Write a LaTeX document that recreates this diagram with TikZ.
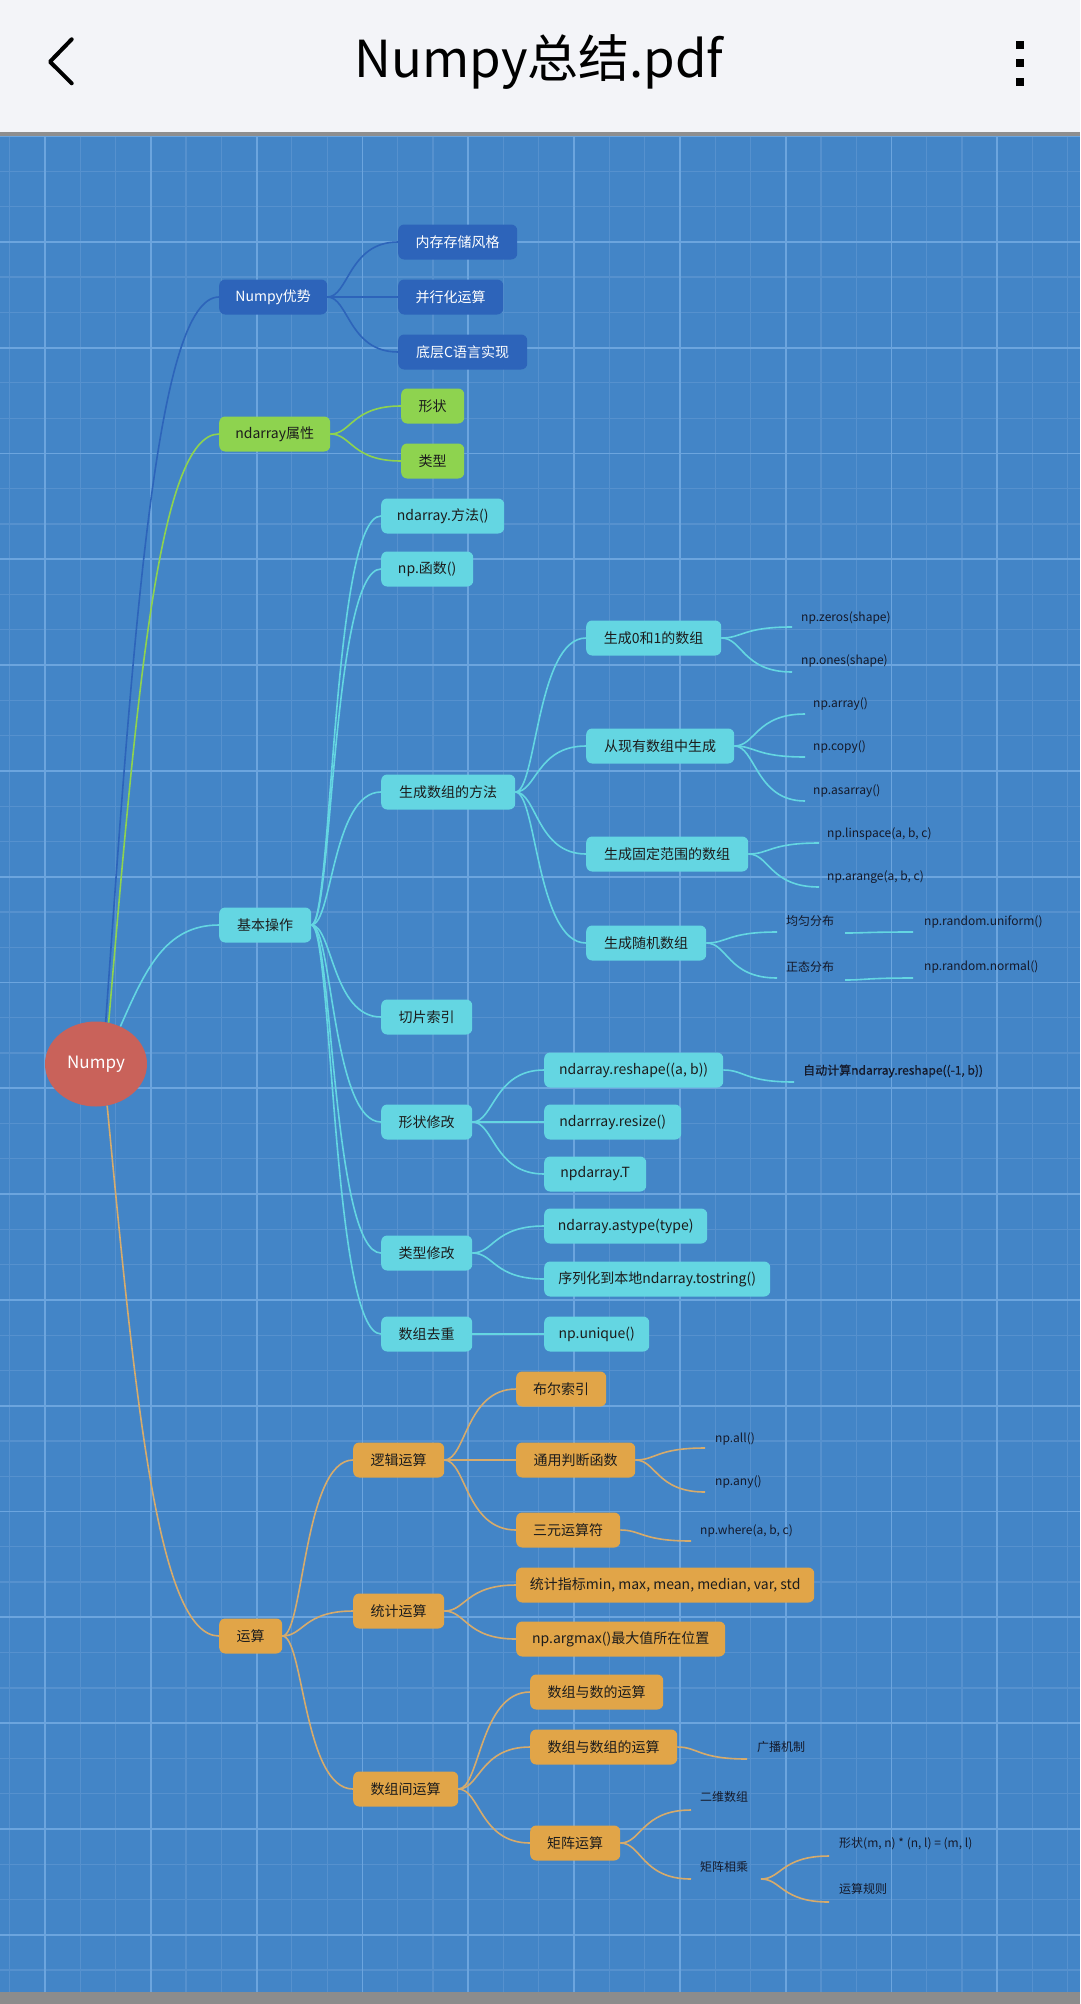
\documentclass[tikz,border=0pt]{standalone}
\usepackage{fontspec}
\newfontfamily\cjk{Noto Sans CJK SC}
\newfontfamily\cjkfb[FakeBold=0.8]{Noto Sans CJK SC}
\usetikzlibrary{calc,shapes.geometric}
\definecolor{bg}{HTML}{4385C7}
\definecolor{gminc}{HTML}{5691CE}
\definecolor{gmajc}{HTML}{6CA5DE}
\definecolor{headbg}{HTML}{F3F4F8}
\definecolor{headline}{HTML}{8E8E8E}
\definecolor{botbar}{HTML}{8C8C8C}
\definecolor{nblue}{HTML}{2D64BA}
\definecolor{ngreen}{HTML}{8ED34F}
\definecolor{ncyan}{HTML}{64D6E2}
\definecolor{norange}{HTML}{E1A548}
\definecolor{lorange}{HTML}{D6AB6C}
\definecolor{nroot}{HTML}{C9625A}
\definecolor{txtdark}{HTML}{1C1C1C}
\definecolor{leaftxt}{HTML}{14192A}
\newcommand\curv[3]{\draw[#1] let \p1=(#2), \p2=(#3) in (\p1) .. controls ({\x1+0.3*(\x2-\x1)},\y1) and ({\x1+0.3*(\x2-\x1)},\y2) .. (\p2);}
\newcommand\rootcurv[3]{\draw[#1] let \p1=(#2), \p2=(#3) in (\p1) .. controls ({\x1+0.25*(\x2-\x1)},{\y1+0.55*(\y2-\y1)}) and ({\x1+0.45*(\x2-\x1)},\y2) .. (\p2);}
\tikzset{
  gmin/.style={gminc, line width=1.2pt},
  gmaj/.style={gmajc, line width=1.8pt},
  box/.style={rounded corners=6pt, minimum height=35pt, inner xsep=4pt, inner ysep=0pt, anchor=west, font=\cjk\fontsize{14}{16}\selectfont, text=txtdark},
  bbox/.style={box, fill=nblue, text=white},
  gbox/.style={box, fill=ngreen},
  cbox/.style={box, fill=ncyan},
  obox/.style={box, fill=norange},
  leaf/.style={inner sep=0pt, anchor=west, font=\cjk\fontsize{12}{14}\selectfont, text=leaftxt},
  bline/.style={nblue, line width=1.6pt},
  gline/.style={ngreen, line width=1.6pt},
  cline/.style={ncyan, line width=1.6pt},
  oline/.style={lorange, line width=1.6pt},
}
\begin{document}
\begin{tikzpicture}[x=1pt,y=-1pt]
\useasboundingbox (0,0) rectangle (1080,2004);
% header and background
\fill[headbg] (0,0) rectangle (1080,132);
\fill[headline] (0,132) rectangle (1080,137);
\fill[bg] (0,137) rectangle (1080,1992);
\fill[botbar] (0,1992) rectangle (1080,2004);
\begin{scope}
\clip (0,137) rectangle (1080,1992);
\foreach \i in {-2,...,30} \draw[gmin] ({45+35.27*\i},137) -- ({45+35.27*\i},1992);
\foreach \j in {0,...,53} \draw[gmin] (0,{136+35.27*\j}) -- (1080,{136+35.27*\j});
\foreach \i in {-1,...,10} \draw[gmaj] ({45+105.8*\i},137) -- ({45+105.8*\i},1992);
\foreach \j in {0,...,18} \draw[gmaj] (0,{136+105.8*\j}) -- (1080,{136+105.8*\j});
\end{scope}
\draw[black, line width=4pt, line cap=round, line join=round] (71.7,39.3) -- (50,61.7) -- (71.7,83.3);
\foreach \yy in {41,59,78} \fill[black] (1016,\yy) rectangle (1024,\yy+8);
\node[font=\cjk\fontsize{51}{55}\selectfont, text=black] (title) at (539,62) {Numpy总结.pdf};

% root
\node[ellipse, fill=nroot, minimum width=102pt, minimum height=85pt, inner sep=0pt, text=white, font=\cjk\fontsize{17}{20}\selectfont] (root) at (96,1064) {Numpy};

% level 1
\node[bbox, minimum width=108pt] (adv) at (219,297) {Numpy优势};
\node[gbox, minimum width=111pt] (attr) at (219,434) {ndarray属性};
\node[cbox, minimum width=92pt] (basic) at (219,925) {基本操作};
\node[obox, minimum width=63pt] (calc) at (219,1636) {运算};

% blue children
\node[bbox, minimum width=119pt] (mem) at (398,242) {内存存储风格};
\node[bbox, minimum width=105pt] (par) at (398,297) {并行化运算};
\node[bbox, minimum width=129pt] (low) at (398,352) {底层C语言实现};

% green children
\node[gbox, minimum width=63pt] (shape) at (401,406) {形状};
\node[gbox, minimum width=63pt] (dtype) at (401,461) {类型};

% cyan level 2
\node[cbox, minimum width=123pt] (meth) at (381,516) {ndarray.方法()};
\node[cbox, minimum width=92pt] (func) at (381,569) {np.函数()};
\node[cbox, minimum width=134pt] (gen) at (381,792) {生成数组的方法};
\node[cbox, minimum width=91pt] (slice) at (381,1017) {切片索引};
\node[cbox, minimum width=91pt] (shpmod) at (381,1122) {形状修改};
\node[cbox, minimum width=91pt] (typmod) at (381,1253) {类型修改};
\node[cbox, minimum width=91pt] (dedup) at (381,1334) {数组去重};

% cyan level 3
\node[cbox, minimum width=135pt] (g01) at (586,638) {生成0和1的数组};
\node[cbox, minimum width=148pt] (gexist) at (586,746) {从现有数组中生成};
\node[cbox, minimum width=162pt] (grange) at (586,854) {生成固定范围的数组};
\node[cbox, minimum width=120pt] (grand) at (586,943) {生成随机数组};
\node[cbox, minimum width=179pt] (reshape) at (544,1070) {ndarray.reshape((a, b))};
\node[cbox, minimum width=137pt] (resize) at (544,1122) {ndarrray.resize()};
\node[cbox, minimum width=102pt] (trans) at (544,1174) {npdarray.T};
\node[cbox, minimum width=163pt] (astype) at (544,1226) {ndarray.astype(type)};
\node[cbox, minimum width=226pt] (tostr) at (544,1279) {序列化到本地ndarray.tostring()};
\node[cbox, minimum width=105pt] (npuniq) at (544,1334) {np.unique()};

% orange
\node[obox, minimum width=91pt] (logic) at (353,1460) {逻辑运算};
\node[obox, minimum width=91pt] (stat) at (353,1611) {统计运算};
\node[obox, minimum width=105pt] (arrop) at (353,1789) {数组间运算};
\node[obox, minimum width=90pt] (boolidx) at (516,1389) {布尔索引};
\node[obox, minimum width=119pt] (judge) at (516,1460) {通用判断函数};
\node[obox, minimum width=104pt] (tern) at (516,1530) {三元运算符};
\node[obox, minimum width=298pt] (statidx) at (516,1585) {统计指标min, max, mean, median, var, std};
\node[obox, minimum width=209pt] (argmax) at (516,1639) {np.argmax()最大值所在位置};
\node[obox, minimum width=133pt] (arrnum) at (530,1692) {数组与数的运算};
\node[obox, minimum width=147pt] (arrarr) at (530,1747) {数组与数组的运算};
\node[obox, minimum width=90pt] (mat) at (530,1843) {矩阵运算};

% leaves
\node[leaf] (zeros) at (801,618) {np.zeros(shape)};
\node[leaf] (ones) at (801,661) {np.ones(shape)};
\node[leaf] (arr) at (813,704) {np.array()};
\node[leaf] (copy) at (813,747) {np.copy()};
\node[leaf] (asarr) at (813,791) {np.asarray()};
\node[leaf] (linsp) at (827,834) {np.linspace(a, b, c)};
\node[leaf] (arange) at (827,877) {np.arange(a, b, c)};
\node[leaf] (unifd) at (786,921) {均匀分布};
\node[leaf] (normd) at (786,967) {正态分布};
\node[leaf] (runif) at (924,922) {np.random.uniform()};
\node[leaf] (rnorm) at (924,967) {np.random.normal()};
\node[leaf, font=\cjkfb\fontsize{12}{14}\selectfont] (auto) at (803,1071) {自动计算ndarray.reshape((-1, b))};
\node[leaf] (npall) at (715,1439) {np.all()};
\node[leaf] (npany) at (715,1482) {np.any()};
\node[leaf] (where) at (700,1531) {np.where(a, b, c)};
\node[leaf] (bcast) at (757,1747) {广播机制};
\node[leaf] (twod) at (700,1797) {二维数组};
\node[leaf] (matmul) at (700,1867) {矩阵相乘};
\node[leaf] (mrule) at (839,1844) {形状(m, n) * (n, l) = (m, l)};
\node[leaf] (orule) at (839,1889) {运算规则};

% leaf line ends
\coordinate (ezeros) at (792,627);
\coordinate (eones) at (792,672);
\coordinate (earr) at (805,714);
\coordinate (ecopy) at (805,757);
\coordinate (easarr) at (805,801);
\coordinate (elinsp) at (819,843);
\coordinate (earange) at (819,887);
\coordinate (eunifd) at (777,932);
\coordinate (enormd) at (777,978);
\coordinate (sunif) at (845,933);
\coordinate (eunif) at (913,932);
\coordinate (snorm) at (845,980);
\coordinate (enorm) at (913,978);
\coordinate (eauto) at (794,1082);
\coordinate (eall) at (705,1448);
\coordinate (eany) at (705,1492);
\coordinate (ewhere) at (691,1541);
\coordinate (ebcast) at (747,1759);
\coordinate (etwod) at (691,1810);
\coordinate (ematmul) at (691,1879);
\coordinate (smatmul) at (761,1879);
\coordinate (emrule) at (829,1856);
\coordinate (eorule) at (829,1902);

% root connectors
\rootcurv{bline}{root.77}{adv.west}
\rootcurv{gline}{root.73}{attr.west}
\rootcurv{cline}{root.57}{basic.west}
\rootcurv{oline}{root.-75}{calc.west}

% blue
\curv{bline}{adv.east}{mem.west}
\curv{bline}{adv.east}{par.west}
\curv{bline}{adv.east}{low.west}
% green
\curv{gline}{attr.east}{shape.west}
\curv{gline}{attr.east}{dtype.west}
% cyan
\foreach \c in {meth,func,gen,slice,shpmod,typmod,dedup} {\curv{cline}{basic.east}{\c.west}}
\foreach \c in {g01,gexist,grange,grand} {\curv{cline}{gen.east}{\c.west}}
\curv{cline}{g01.east}{ezeros}
\curv{cline}{g01.east}{eones}
\curv{cline}{gexist.east}{earr}
\curv{cline}{gexist.east}{ecopy}
\curv{cline}{gexist.east}{easarr}
\curv{cline}{grange.east}{elinsp}
\curv{cline}{grange.east}{earange}
\curv{cline}{grand.east}{eunifd}
\curv{cline}{grand.east}{enormd}
\curv{cline}{sunif}{eunif}
\curv{cline}{snorm}{enorm}
\foreach \c in {reshape,resize,trans} {\curv{cline}{shpmod.east}{\c.west}}
\curv{cline}{reshape.east}{eauto}
\foreach \c in {astype,tostr} {\curv{cline}{typmod.east}{\c.west}}
\curv{cline}{dedup.east}{npuniq.west}
% orange
\foreach \c in {logic,stat,arrop} {\curv{oline}{calc.east}{\c.west}}
\foreach \c in {boolidx,judge,tern} {\curv{oline}{logic.east}{\c.west}}
\curv{oline}{judge.east}{eall}
\curv{oline}{judge.east}{eany}
\curv{oline}{tern.east}{ewhere}
\foreach \c in {statidx,argmax} {\curv{oline}{stat.east}{\c.west}}
\foreach \c in {arrnum,arrarr,mat} {\curv{oline}{arrop.east}{\c.west}}
\curv{oline}{arrarr.east}{ebcast}
\curv{oline}{mat.east}{etwod}
\curv{oline}{mat.east}{ematmul}
\curv{oline}{smatmul}{emrule}
\curv{oline}{smatmul}{eorule}
\end{tikzpicture}
\end{document}
